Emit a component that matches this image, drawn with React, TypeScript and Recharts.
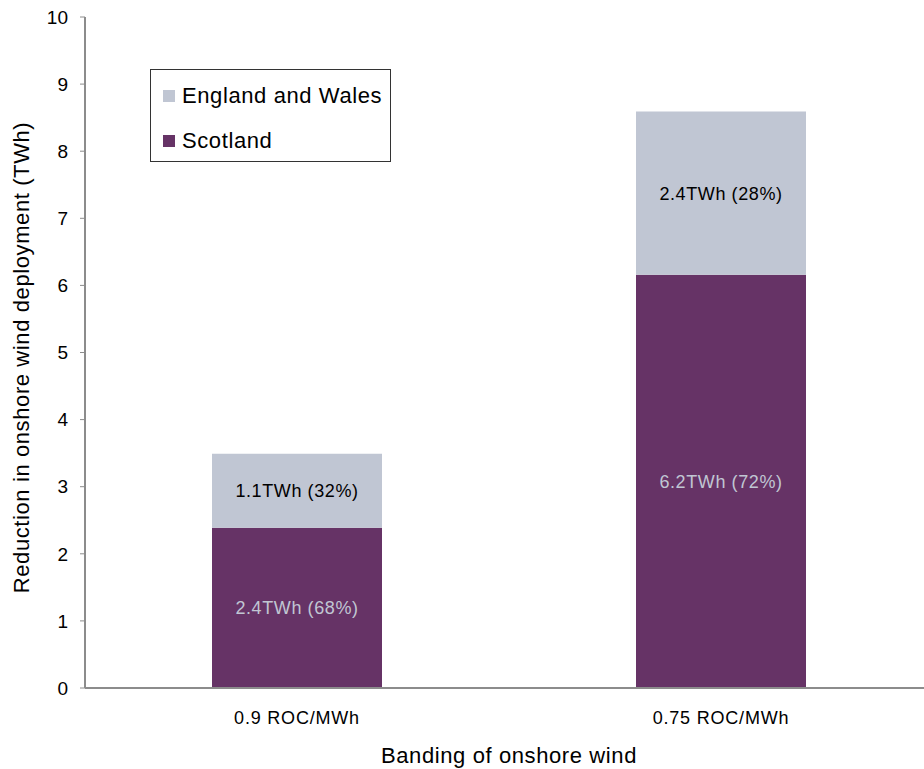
import React from 'react';
import { BarChart, Bar, XAxis, YAxis, LabelList, Label } from 'recharts';

const categories = ['0.9 ROC/MWh', '0.75 ROC/MWh'];
const scotland = [2.39, 6.16];
const englandWales = [1.1, 2.43];
const scotlandLabels = ['2.4TWh (68%)', '6.2TWh (72%)'];
const englandWalesLabels = ['1.1TWh (32%)', '2.4TWh (28%)'];
const yTicks = [0, 1, 2, 3, 4, 5, 6, 7, 8, 9, 10];
const boundaryTicks = [0, 1, 2];
const seriesNames = ['England and Wales', 'Scotland'];

const data = categories.map((c, i) => ({
  name: c,
  scotland: scotland[i],
  englandWales: englandWales[i],
  sLabel: scotlandLabels[i],
  ewLabel: englandWalesLabels[i],
}));

const FONT = '"Liberation Sans", Arial, sans-serif';
const SCOT = '#663366';
const EW = '#C0C6D3';
const AXIS = '#8c8c8c';

const LegendBox = () => (
  <div
    style={{
      position: 'absolute',
      left: 150,
      top: 69,
      width: 239,
      height: 91,
      border: '1px solid #333',
      background: '#fff',
      fontFamily: FONT,
      fontSize: 22,
      letterSpacing: 0.6,
      color: '#000',
      lineHeight: 1,
    }}
  >
    <div style={{ position: 'absolute', left: 12, top: 15, display: 'flex', alignItems: 'center' }}>
      <span style={{ width: 12, height: 12, background: EW, display: 'inline-block', marginRight: 7 }} />
      <span>{seriesNames[0]}</span>
    </div>
    <div style={{ position: 'absolute', left: 12, top: 60, display: 'flex', alignItems: 'center' }}>
      <span style={{ width: 12, height: 12, background: SCOT, display: 'inline-block', marginRight: 7 }} />
      <span>{seriesNames[1]}</span>
    </div>
  </div>
);

export default function App() {
  return (
    <div
      style={{
        position: 'absolute',
        left: 0,
        top: 0,
        width: 924,
        height: 769,
        overflow: 'hidden',
        background: '#fff',
      }}
    >
      <BarChart
        width={950}
        height={769}
        data={data}
        margin={{ top: 17, right: 17, left: 0, bottom: 0 }}
        style={{ fontFamily: FONT }}
      >
        <XAxis
          xAxisId="grid"
          type="number"
          domain={[0, 2]}
          ticks={boundaryTicks}
          height={0}
          axisLine={false}
          tickLine={{ stroke: AXIS, strokeWidth: 1 }}
          tickSize={6}
          tickFormatter={() => ''}
        />
        <XAxis
          xAxisId="cat"
          dataKey="name"
          height={81}
          axisLine={{ stroke: AXIS, strokeWidth: 2 }}
          tickLine={false}
          tickSize={0}
          tickMargin={23}
          tick={{ fill: '#000', fontSize: 18, fontFamily: FONT, letterSpacing: 0.8 } as any}
        >
          <Label
            content={(props: any) => {
              const vb = props.viewBox;
              const x = vb.x + vb.width / 2;
              return (
                <text
                  x={x}
                  y={763}
                  textAnchor="middle"
                  fill="#000"
                  fontSize={22}
                  letterSpacing={0.6}
                  fontFamily={FONT}
                >
                  Banding of onshore wind
                </text>
              );
            }}
          />
        </XAxis>
        <YAxis
          width={85}
          domain={[0, 10]}
          ticks={yTicks}
          interval={0}
          axisLine={{ stroke: AXIS, strokeWidth: 2 }}
          tickLine={{ stroke: AXIS, strokeWidth: 1 }}
          tickSize={5}
          tickMargin={12}
          tick={{ fill: '#000', fontSize: 19, fontFamily: FONT }}
        >
          <Label
            content={(props: any) => {
              const vb = props.viewBox;
              const x = 21;
              const y = vb.y + vb.height / 2 + 5;
              return (
                <text
                  x={x}
                  y={y}
                  transform={`rotate(-90, ${x}, ${y})`}
                  textAnchor="middle"
                  dominantBaseline="central"
                  fill="#000"
                  fontSize={22}
                  letterSpacing={0.6}
                  fontFamily={FONT}
                >
                  Reduction in onshore wind deployment (TWh)
                </text>
              );
            }}
          />
        </YAxis>
        <Bar xAxisId="cat" dataKey="scotland" name={seriesNames[1]} stackId="a" fill={SCOT} barSize={170} isAnimationActive={false}>
          <LabelList dataKey="sLabel" position="center" fill="#C0C6D3" fontSize={18} letterSpacing={0.6} fontFamily={FONT} />
        </Bar>
        <Bar xAxisId="cat" dataKey="englandWales" name={seriesNames[0]} stackId="a" fill={EW} barSize={170} isAnimationActive={false}>
          <LabelList dataKey="ewLabel" position="center" fill="#000" fontSize={18} letterSpacing={0.6} fontFamily={FONT} />
        </Bar>
      </BarChart>
      <LegendBox />
    </div>
  );
}
